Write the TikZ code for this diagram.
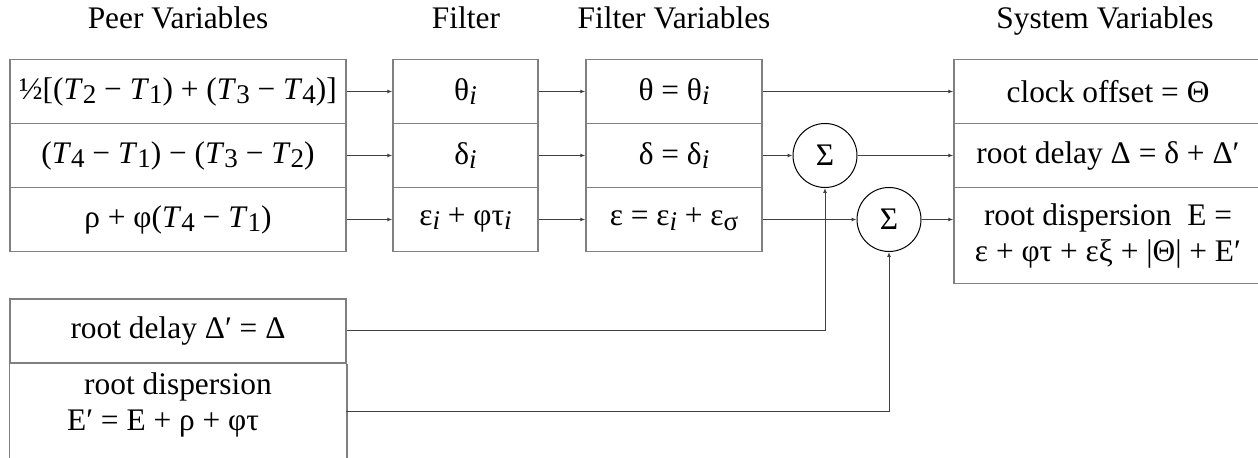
\documentclass[tikz,border=0pt]{standalone}
\usepackage{fontspec}
\setmainfont{Liberation Serif}
\usetikzlibrary{arrows.meta}

\newcommand{\lo}[1]{\raisebox{-0.15em}{\fontsize{13.5}{13.5}\selectfont #1}}
\newcommand{\Tt}[1]{\textit{T}\lo{#1}}

\begin{document}
\begin{tikzpicture}[x=0.5pt,y=-0.5pt,
  font=\fontsize{15.7}{18}\selectfont,
  cell/.style={draw=gray, line width=0.75pt, minimum height=32pt, inner sep=0pt},
  peercell/.style={cell, minimum width=168pt},
  filtcell/.style={cell, minimum width=72.5pt},
  fvcell/.style={cell, minimum width=88pt},
  syscell/.style={cell, minimum width=154pt},
  sum/.style={circle, draw, line width=0.5pt, minimum size=32pt, inner sep=0pt},
  head/.style={anchor=base},
  conn/.style={draw=black!75, line width=0.5pt, -{Latex[length=2.5pt,width=2pt]}},
  wall/.style={draw=gray, line width=0.75pt}]
\useasboundingbox (0,0) rectangle (1258,458);
\clip (0,0) rectangle (1258,458);
% headings
\node[head] (peerhead) at (178,29) {Peer Variables};
\node[head] (filthead) at (466,29) {Filter};
\node[head] (fvhead) at (674,29) {Filter Variables};
\node[head] (syshead) at (1105,29) {System Variables};
% peer variables
\node[peercell] (peer1) at (178,91.5) {½[(\Tt2 − \Tt1) + (\Tt3 − \Tt4)]};
\node[peercell] (peer2) at (178,155.5) {(\Tt4 − \Tt1) − (\Tt3 − \Tt2)};
\node[peercell] (peer3) at (178,219.5) {ρ + φ(\Tt4 − \Tt1)};
% filter
\node[filtcell] (filt1) at (465.5,91.5) {θ\lo{\textit{i}}};
\node[filtcell] (filt2) at (465.5,155.5) {δ\lo{\textit{i}}};
\node[filtcell] (filt3) at (465.5,219.5) {ε\lo{\textit{i}} + φτ\lo{\textit{i}}};
% filter variables
\node[fvcell] (fv1) at (674,91.5) {θ = θ\lo{\textit{i}}};
\node[fvcell] (fv2) at (674,155.5) {δ = δ\lo{\textit{i}}};
\node[fvcell] (fv3) at (674,219.5) {ε = ε\lo{\textit{i}} + ε\lo{σ}};
% sums
\node[sum] (sum1) at (825,155.5) {Σ};
\node[sum] (sum2) at (889,219.5) {Σ};
% system variables
\node[syscell] (sys1) at (1108,91.5) {clock offset = Θ};
\node[syscell] (sys2) at (1108,155.5) {root delay Δ = δ + Δ′};
\node[syscell, minimum height=48pt, align=center] (sys3) at (1108,235.5)
  {root dispersion~~E =\\ε + φτ + εξ + |Θ| + E′};
% previous root values
\node[peercell] (lowA) at (178,331) {root delay Δ′ = Δ};
\node[align=center] (lowB) at (178,405) {root dispersion\\E′ = E + ρ + φτ\hspace*{15pt}};
\draw[wall] (lowA.south west) -- ++(0,130);
\draw[wall] (lowA.south east) -- ++(0,130);
\coordinate (lowBout) at (346,412);
% connections
\draw[conn] (peer1.east) -- (filt1.west);
\draw[conn] (peer2.east) -- (filt2.west);
\draw[conn] (peer3.east) -- (filt3.west);
\draw[conn] (filt1.east) -- (fv1.west);
\draw[conn] (filt2.east) -- (fv2.west);
\draw[conn] (filt3.east) -- (fv3.west);
\draw[conn] (fv1.east) -- (sys1.west);
\draw[conn] (fv2.east) -- (sum1.west);
\draw[conn] (sum1.east) -- (sys2.west);
\draw[conn] (fv3.east) -- (sum2.west);
\draw[conn] (sum2.east) -- (sum2.east -| sys3.west);
\draw[conn] (lowA.east) -| (sum1.south);
\draw[conn] (lowBout) -| (sum2.south);
\end{tikzpicture}
\end{document}
